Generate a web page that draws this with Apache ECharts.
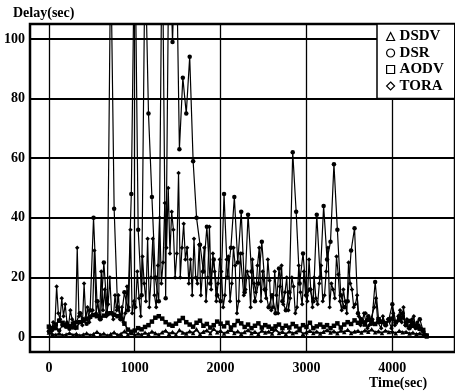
<!DOCTYPE html>
<html><head><meta charset="utf-8">
<script src="https://cdn.jsdelivr.net/npm/echarts@6/dist/echarts.min.js"></script>
<style>html,body{margin:0;padding:0;background:#fff}#c{width:455px;height:392px}</style>
</head><body><div id="c"></div><script>
// ---- data ----
const X_TICKS = [0, 1000, 2000, 3000, 4000];
const Y_TICKS = [0, 20, 40, 60, 80, 100];
const SERIES_NAMES = ['DSDV', 'DSR', 'AODV', 'TORA'];
// sampling of each trace: [first sample time, step] in seconds
const SAMPLING = {DSDV: [0, 40], DSR: [0, 40], AODV: [0, 40], TORA: [10, 20]};

const DSDV = [
 1.5,1.0,0.8,1.2,0.6,0.9,1.4,0.7,1.1,0.5,
 0.9,1.3,0.6,1.0,1.8,0.8,1.2,0.5,1.0,1.6,
 0.7,1.1,2.0,0.9,1.4,0.6,1.2,0.8,1.5,1.0,
 1.9,1.3,0.8,1.6,2.2,1.1,1.7,0.9,2.4,1.5,
 1.2,2.0,1.4,2.6,1.0,1.8,2.3,1.3,2.8,1.6,
 2.1,1.2,1.9,2.5,1.4,2.0,1.1,1.7,2.4,1.3,
 1.8,1.0,2.2,1.5,1.9,1.2,2.6,1.4,1.8,1.0,
 2.0,1.3,1.7,2.3,1.1,1.6,2.1,1.4,1.9,1.2,
 1.8,2.4,1.5,2.0,1.3,2.2,1.7,2.5,1.4,1.9,
 2.1,1.5,2.3,1.8,2.6,1.6,2.0,1.4,2.2,1.7,
 1.9,1.3,2.1,1.6,1.8,1.2,1.5,1.0,1.3,0.6,0.2
];
const DSR = [
 2.0,2.5,3.0,2.2,4.0,3.5,2.8,3.2,5.0,8.0,
 6.0,4.5,9.0,40,12,6.0,25,8.0,130,43,
 10,6.0,15,9.0,48,140,36,14,130,75,
 47,20,12,140,13,140,99,140,63,87,
 75,94,59,40,31,22,37,18,26,14,
 12,48,20,30,47,25,42,15,41,22,
 12,18,32,16,10,14,8,23,12,9,
 15,62,42,18,28,14,16,12,41,20,
 44,26,32,58,36,14,10,12,29,36.5,
 8,6,5,7,4.5,18.5,6,5,4,6,
 11,5,7,8,4,3,5,4,6,2,0.5
];
const AODV = [
 3.5,3.0,4.2,5.5,4.8,4.0,3.6,4.5,3.2,5.0,
 5.5,6.2,6.8,7.4,7.0,6.5,7.2,7.8,8.0,7.5,
 7.0,6.2,4.5,2.5,1.8,2.2,3.0,2.6,3.4,4.0,
 5.2,6.5,7.0,6.2,5.0,4.2,3.8,4.5,5.5,6.4,
 5.0,4.2,3.5,4.8,5.5,3.8,4.4,3.2,4.0,5.2,
 4.5,3.6,4.8,3.2,4.0,5.4,4.6,3.4,4.2,3.0,
 3.8,4.6,3.2,4.0,3.5,2.8,3.6,4.2,3.0,3.8,
 3.2,4.4,3.6,2.8,4.0,3.4,4.8,3.0,3.6,4.2,
 3.4,4.0,3.0,3.8,4.6,3.2,4.2,5.0,4.4,5.6,
 4.8,5.4,4.2,5.8,5.0,4.4,6.0,5.2,4.6,5.6,
 6.2,5.0,5.8,6.6,4.8,5.4,3.8,3.2,2.8,2.4,0.5
];
const TORA = [
 3,2,5,4,17,8,6,13,7,11,5,4,9,6,5,3,30,7,8,4,
 18,6,10,5,7,9,29,8,12,6,22,9,16,7,11,20,8,6,14,9,
 14,6,10,5,8,17,10,36,8,12,10,22,13,7,27,18,12,33,10,20,
 33,14,10,24,40,18,25,45,30,50,28,42,36,20,28,55,20,30,38,26,
 30,18,26,14,33,20,18,31,14,22,30,12,20,37,16,28,22,12,18,26,
 22,10,14,26,27,12,18,30,24,8,12,28,28,14,16,22,20,10,26,18,
 15,24,30,12,22,16,13,26,19,9,10,22,14,8,17,24,11,15,20,9,
 13,20,17,8,10,24,15,11,22,14,12,26,16,10,20,13,11,18,24,12,
 14,22,30,10,18,16,13,27,21,12,9,16,12,8,25,18,16,10,11,14,
 7,4,5,8,8,3,4,6,6,10,13,5,5,3,7,5,4,6,6,3,
 8,4,5,7,9,5,10,4,6,3,4,6,7,3,5,4,3,2,1,0.5
];

// ---- build ----
const VALUES = {DSDV, DSR, AODV, TORA};
function pairs(name) {
  const [t0, step] = SAMPLING[name];
  return VALUES[name].map((v, i) => [t0 + i * step, v]);
}
const SYMBOLS = ['triangle', 'circle', 'rect', 'diamond'];
const LINE_W = [1.6, 1.2, 1.5, 1.2];

const FONT = 'Liberation Serif';
const chart = echarts.init(document.getElementById('c'), null, {renderer: 'canvas'});
chart.setOption({
  animation: false,
  backgroundColor: '#fff',
  grid: {left: 30, top: 24, right: -1, bottom: 40, show: true, borderColor: '#000', borderWidth: 2.5, backgroundColor: 'transparent'},
  xAxis: {
    type: 'value', min: -220, max: 4730,
    axisLine: {show: false},
    axisTick: {show: false, customValues: X_TICKS},
    axisLabel: {customValues: X_TICKS, formatter: v => String(v), color: '#000', fontFamily: FONT, fontWeight: 'bold', fontSize: 14, margin: 9},
    splitLine: {show: true, lineStyle: {color: '#000', width: 1.3}}
  },
  yAxis: {
    type: 'value', min: -5, max: 105,
    axisLine: {show: false},
    axisTick: {show: false, customValues: Y_TICKS},
    axisLabel: {customValues: Y_TICKS, formatter: v => String(v), color: '#000', fontFamily: FONT, fontWeight: 'bold', fontSize: 14, margin: 5},
    splitLine: {show: true, lineStyle: {color: '#000', width: 2}}
  },
  legend: {
    left: 377, top: 24, orient: 'vertical',
    padding: [5, 11, 5, 9], itemGap: 1.5, itemWidth: 8, itemHeight: 8,
    backgroundColor: '#fff', borderColor: '#000', borderWidth: 1.5,
    selectedMode: false,
    textStyle: {color: '#000', fontFamily: FONT, fontWeight: 'bold', fontSize: 15, lineHeight: 15},
    data: SERIES_NAMES.map((n, i) => ({name: n, icon: SYMBOLS[i], itemStyle: {color: '#fff', borderColor: '#000', borderWidth: 1.2}}))
  },
  graphic: [
    {type: 'text', left: 13, top: 6, style: {text: 'Delay(sec)', fill: '#000', font: 'bold 14px "Liberation Serif"'}},
    {type: 'text', left: 369, top: 376, style: {text: 'Time(sec)', fill: '#000', font: 'bold 14px "Liberation Serif"'}}
  ],
  series: SERIES_NAMES.map((n, i) => ({
    name: n, type: 'line', data: pairs(n),
    symbol: SYMBOLS[i], symbolSize: 4.5, showSymbol: true,
    lineStyle: {color: '#000', width: LINE_W[i]}, itemStyle: {color: '#000'},
    clip: true, z: 3 + i
  }))
});
</script></body></html>
